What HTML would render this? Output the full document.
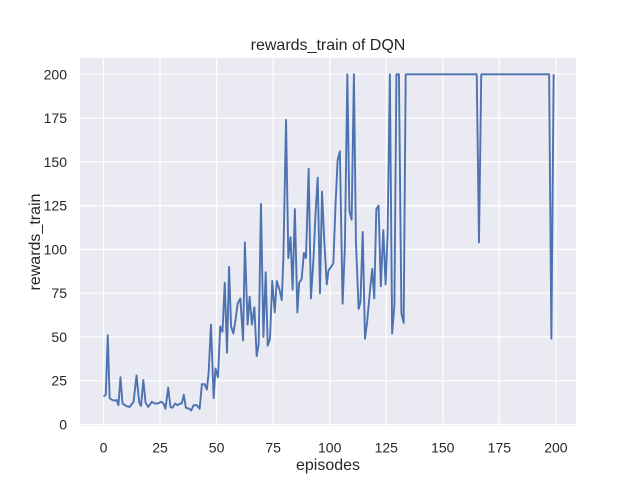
<!DOCTYPE html>
<html><head><meta charset="utf-8"><style>
html,body{margin:0;padding:0;background:#fff;}
svg{display:block;font-family:"Liberation Sans",Arial,sans-serif;}
</style></head><body>
<svg width="640" height="480" viewBox="0 0 640 480" xmlns="http://www.w3.org/2000/svg">
<rect x="80" y="58" width="496" height="368" fill="#eaeaf2"/>
<g stroke="#fff" stroke-width="1.2">
<line x1="80" x2="576" y1="424.5" y2="424.5"/>
<line x1="80" x2="576" y1="380.7" y2="380.7"/>
<line x1="80" x2="576" y1="336.9" y2="336.9"/>
<line x1="80" x2="576" y1="293.2" y2="293.2"/>
<line x1="80" x2="576" y1="249.4" y2="249.4"/>
<line x1="80" x2="576" y1="205.6" y2="205.6"/>
<line x1="80" x2="576" y1="161.8" y2="161.8"/>
<line x1="80" x2="576" y1="118.1" y2="118.1"/>
<line x1="80" x2="576" y1="74.3" y2="74.3"/>
<line y1="58" y2="426" x1="103.5" x2="103.5"/>
<line y1="58" y2="426" x1="160.05" x2="160.05"/>
<line y1="58" y2="426" x1="216.6" x2="216.6"/>
<line y1="58" y2="426" x1="273.15" x2="273.15"/>
<line y1="58" y2="426" x1="329.7" x2="329.7"/>
<line y1="58" y2="426" x1="386.25" x2="386.25"/>
<line y1="58" y2="426" x1="442.8" x2="442.8"/>
<line y1="58" y2="426" x1="499.35" x2="499.35"/>
<line y1="58" y2="426" x1="555.9" x2="555.9"/>
</g>
<g transform="translate(103.5,424.5) scale(2.262,-1.751)">
<polyline fill="none" stroke="#4c72b0" stroke-width="1.9" vector-effect="non-scaling-stroke" stroke-linejoin="round" points="0,16 1,17 1.9,51 2.7,15 3.9,14 5,13.6 5.8,14 6.6,11 7.5,27 8.4,12 10,10.6 11.5,10 13.3,13 14.6,28 15.8,12.4 16.6,10.6 17.6,25.4 18.6,12.4 19.8,10 21.4,13 22.6,12 24,12 25.5,13 26.5,12 27.4,9 28.6,21 29.6,10 30.5,9.6 31.7,12 32.7,11 33.9,12 34.6,12 35.5,17 36.4,9.6 37.9,9 38.8,8 39.8,11 41.3,11 42.5,9 43.5,23 44.7,23 45.7,20 46.5,30 47.5,57 48.7,15 49.5,32 50.6,27 51.6,56 52.6,53 53.6,81 54.6,41 55.5,90 56.4,56 57.4,52 58.4,60 59.3,69 60.5,72 61.7,48 62.5,104 63.7,57 64.6,73 65.6,57 66.7,67 67.7,39 68.6,46 69.6,126 70.7,50 71.7,87 72.6,45 73.6,49 74.6,82 75.7,64 76.6,82 77.8,77 78.8,71 79.5,94 80.7,174 81.7,95 82.7,107 83.6,77 84.6,123 85.7,64 86.5,81 87.6,83 88.6,98 89.5,95 90.7,146 91.7,72 92.8,94 93.8,122 94.7,141 95.7,75 96.6,133 97.6,105 98.7,80 99.5,88 100.6,90 101.6,92 102.6,126 103.5,151 104.5,156 105.7,69 106.7,101 107.8,200 108.7,122 109.7,117 110.7,200 111.6,104 112.8,66 113.6,70 114.6,110 115.6,49 116.5,58 117.7,75 118.8,89 119.7,72 120.6,123 121.6,125 122.6,79 123.7,111 124.7,80 125.6,109 126.6,200 127.6,52 128.6,68 129.5,200 130.6,200 131.7,63.5 132.7,58 133.6,200 165,200 166,104 167,200 197,200 198,49 199,200"/>
</g>
<g font-size="14" fill="#262626" text-anchor="middle">
<text x="103.5" y="452.5">0</text>
<text x="160.05" y="452.5">25</text>
<text x="216.6" y="452.5">50</text>
<text x="273.15" y="452.5">75</text>
<text x="329.7" y="452.5">100</text>
<text x="386.25" y="452.5">125</text>
<text x="442.8" y="452.5">150</text>
<text x="499.35" y="452.5">175</text>
<text x="555.9" y="452.5">200</text>
</g>
<g font-size="14" fill="#262626" text-anchor="end">
<text x="67" y="429.5">0</text>
<text x="67" y="385.7">25</text>
<text x="67" y="341.9">50</text>
<text x="67" y="298.2">75</text>
<text x="67" y="254.4">100</text>
<text x="67" y="210.6">125</text>
<text x="67" y="166.8">150</text>
<text x="67" y="123.1">175</text>
<text x="67" y="79.3">200</text>
</g>
<text x="328" y="470" font-size="16" fill="#262626" text-anchor="middle">episodes</text>
<text transform="translate(40,242) rotate(-90)" font-size="16" fill="#262626" text-anchor="middle">rewards_train</text>
<text x="328" y="50" font-size="16" fill="#262626" text-anchor="middle">rewards_train of DQN</text>
</svg>
</body></html>
